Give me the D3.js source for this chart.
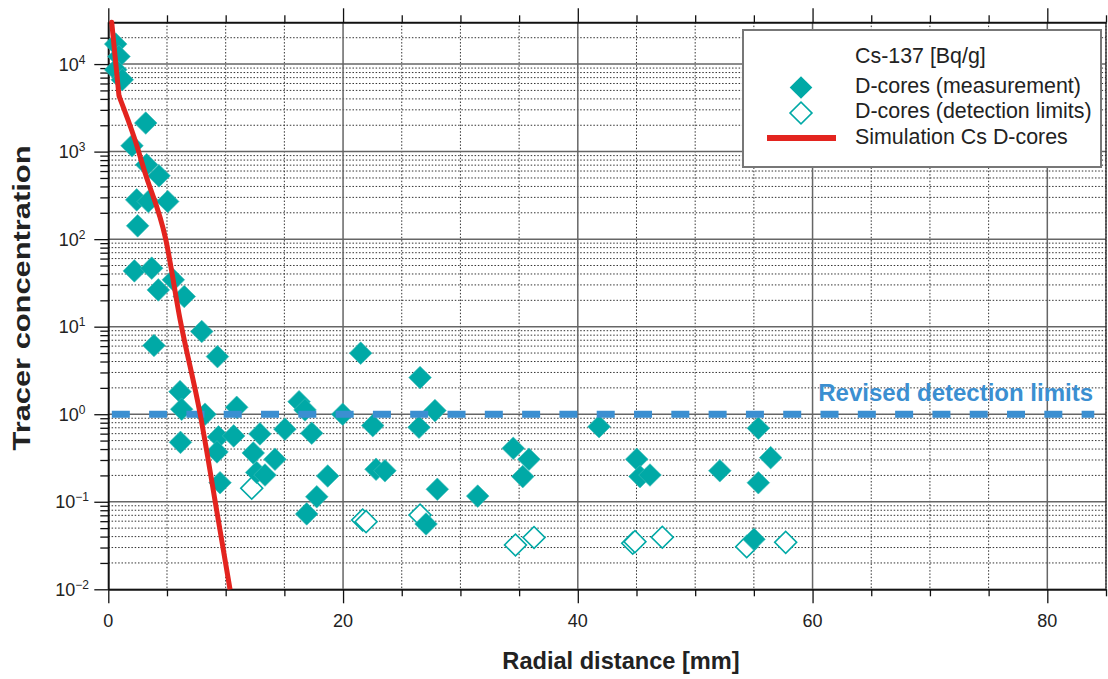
<!DOCTYPE html>
<html>
<head>
<meta charset="utf-8">
<script src="https://cdn.jsdelivr.net/npm/d3@7"></script>
<style>
  html, body { margin: 0; padding: 0; background: #fff; }
  svg { display: block; font-family: "Liberation Sans", Arial, Helvetica, sans-serif; }
</style>
</head>
<body>
<svg id="chart" width="1108" height="679"></svg>
<script>
// ---------- data ----------
const measX = [0.63, 0.91, 0.63, 1.19, 3.19, 2.02, 3.27, 4.32, 2.42, 3.41, 5.06, 2.50,
  2.22, 3.70, 4.26, 5.54, 6.47, 7.96, 3.89, 9.30, 6.11, 6.25, 8.24, 10.94, 6.15, 9.39,
  10.68, 9.26, 12.35, 12.92, 14.20, 12.64, 13.35, 9.52, 15.05, 16.25, 16.76, 17.33,
  18.69, 17.76, 16.90, 19.97, 21.50, 22.53, 22.81, 23.57, 26.56, 26.47, 27.83, 27.07,
  28.03, 31.47, 34.50, 35.84, 35.31, 41.81, 45.02, 45.30, 46.15, 52.10, 55.38, 56.43,
  55.38, 55.01];
const measY = [16900, 12200, 8600, 6620, 2120, 1165, 707, 529, 281, 269, 269, 142,
  43.4, 46.6, 26.3, 34.3, 22.1, 8.8, 6.1, 4.55, 1.81, 1.14, 1.0, 1.20, 0.477, 0.551,
  0.565, 0.371, 0.361, 0.596, 0.306, 0.216, 0.202, 0.165, 0.675, 1.39, 1.12, 0.607,
  0.197, 0.114, 0.0727, 1.0, 4.98, 0.741, 0.235, 0.226, 2.62, 0.709, 1.10, 0.0557,
  0.139, 0.116, 0.408, 0.306, 0.194, 0.721, 0.306, 0.194, 0.202, 0.226, 0.692, 0.319,
  0.165, 0.0373];

const limX = [12.22, 21.67, 21.96, 26.56, 34.69, 36.27, 44.68, 44.87, 47.20, 54.39, 57.71];
const limY = [0.143, 0.0619, 0.0593, 0.0706, 0.0321, 0.0391, 0.0336, 0.035, 0.0393, 0.0307, 0.0344];

const simX = [0.29, 0.91, 2.27, 3.13, 4.89, 6.12, 7.81, 9.37, 10.37];
const simY = [30000, 4340, 1365, 573, 100, 12.0, 1.03, 0.062, 0.01];

const detectionLimit = 1;
const detectionRange = [0.3, 84];

const xMajorTicks = [0, 20, 40, 60, 80];
const xMinorTicks = [5, 10, 15, 25, 30, 35, 45, 50, 55, 65, 70, 75, 85];
const yExponents = [-2, -1, 0, 1, 2, 3, 4];
const yMinorMultipliers = [2, 3, 4, 5, 6, 7, 8, 9];

const legendTitle = "Cs-137 [Bq/g]";
const legendLabels = ["D-cores (measurement)", "D-cores (detection limits)", "Simulation Cs D-cores"];
const xTitle = "Radial distance [mm]";
const yTitle = "Tracer concentration";
const limitLabel = "Revised detection limits";

// ---------- colours ----------
const teal = "#00a9a6";
const red = "#e3241f";
const blue = "#3b8fd1";

// ---------- scales ----------
const svg = d3.select("#chart");
const x = d3.scaleLinear().domain([0, 85]).range([108.3, 1106]);
const y = d3.scaleLog().domain([0.01, 30000]).range([589.3, 22.3]);
const [x0, x1] = x.range();
const [yb, yt] = y.range();

const yMajor = yExponents.map(e => Math.pow(10, e));
const yMinor = [];
yExponents.forEach(e => yMinorMultipliers.forEach(m => {
  const v = m * Math.pow(10, e);
  if (v < y.domain()[1]) yMinor.push(v);
}));

// ---------- grid ----------
const grid = svg.append("g");
grid.selectAll(".hmin").data(yMinor).join("line")
  .attr("x1", x0).attr("x2", x1)
  .attr("y1", d => y(d)).attr("y2", d => y(d))
  .attr("stroke", "#333").attr("stroke-width", 1).attr("stroke-dasharray", "1.5 1.8");
grid.selectAll(".vmin").data(xMinorTicks).join("line")
  .attr("x1", d => x(d)).attr("x2", d => x(d))
  .attr("y1", yt).attr("y2", yb)
  .attr("stroke", "#333").attr("stroke-width", 1).attr("stroke-dasharray", "1.5 1.8");
grid.selectAll(".hmaj").data(yMajor).join("line")
  .attr("x1", x0).attr("x2", x1)
  .attr("y1", d => y(d)).attr("y2", d => y(d))
  .attr("stroke", "#666").attr("stroke-width", 1.5);
grid.selectAll(".vmaj").data(xMajorTicks).join("line")
  .attr("x1", d => x(d)).attr("x2", d => x(d))
  .attr("y1", yt).attr("y2", yb)
  .attr("stroke", "#666").attr("stroke-width", 1.5);

// frame (top & right)
svg.append("line").attr("x1", x0).attr("x2", x1).attr("y1", yt).attr("y2", yt)
  .attr("stroke", "#222").attr("stroke-width", 1.3);
svg.append("line").attr("x1", x1).attr("x2", x1).attr("y1", yt).attr("y2", yb)
  .attr("stroke", "#222").attr("stroke-width", 1.3);

// ---------- axes ----------
function styleAxis(g) {
  g.selectAll("path.domain").attr("stroke", "#111").attr("stroke-width", 1.3);
  g.selectAll(".tick line").attr("stroke", "#111").attr("stroke-width", 1.3);
  g.selectAll(".tick text").remove();
}
svg.append("g").attr("transform", `translate(0,${yb})`)
  .call(d3.axisBottom(x).tickValues(xMajorTicks).tickSize(14).tickSizeOuter(0).tickFormat(""))
  .call(styleAxis);
svg.append("g").attr("transform", `translate(0,${yb})`)
  .call(d3.axisBottom(x).tickValues(xMinorTicks).tickSize(7).tickSizeOuter(0).tickFormat(""))
  .call(styleAxis);
svg.append("g").attr("transform", `translate(0,${yt})`)
  .call(d3.axisTop(x).tickValues(xMajorTicks).tickSize(14).tickSizeOuter(0).tickFormat(""))
  .call(styleAxis);
svg.append("g").attr("transform", `translate(0,${yt})`)
  .call(d3.axisTop(x).tickValues(xMinorTicks).tickSize(7).tickSizeOuter(0).tickFormat(""))
  .call(styleAxis);
svg.append("g").attr("transform", `translate(${x0},0)`)
  .call(d3.axisLeft(y).tickValues(yMajor).tickSize(14).tickSizeOuter(0).tickFormat(""))
  .call(styleAxis);
svg.append("g").attr("transform", `translate(${x0},0)`)
  .call(d3.axisLeft(y).tickValues(yMinor).tickSize(8).tickSizeOuter(0).tickFormat(""))
  .call(styleAxis);

// tick labels
svg.append("g").selectAll("text").data(xMajorTicks).join("text")
  .attr("x", d => x(d)).attr("y", 627)
  .attr("text-anchor", "middle").attr("font-size", 18).attr("fill", "#222")
  .text(d => d);

const yl = svg.append("g").selectAll("text").data(yExponents).join("text")
  .attr("x", 72).attr("y", d => y(Math.pow(10, d)) + 6.5)
  .attr("text-anchor", "middle").attr("font-size", 18).attr("fill", "#222");
yl.append("tspan").text("10");
yl.append("tspan").attr("dy", -7).attr("font-size", 12)
  .text(d => d < 0 ? "\u2212" + Math.abs(d) : d);

// axis titles
svg.append("text").attr("x", 621).attr("y", 669)
  .attr("text-anchor", "middle").attr("font-size", 23.6).attr("font-weight", "bold")
  .attr("fill", "#222").text(xTitle);
svg.append("text").attr("transform", `translate(30,298) rotate(-90)`)
  .attr("text-anchor", "middle").attr("font-size", 23).attr("font-weight", "bold")
  .attr("textLength", 305).attr("lengthAdjust", "spacingAndGlyphs")
  .attr("fill", "#222").text(yTitle);

// ---------- markers ----------
const diamond = d3.symbol().type(d3.symbolSquare);
const limPts = limX.map((v, i) => [v, limY[i]]);
const measPts = measX.map((v, i) => [v, measY[i]]);

svg.append("g").selectAll("path").data(limPts).join("path")
  .attr("d", diamond.size(240)())
  .attr("transform", d => `translate(${x(d[0])},${y(d[1])}) rotate(45)`)
  .attr("fill", "#fff").attr("stroke", teal).attr("stroke-width", 1.6);

svg.append("g").selectAll("path").data(measPts).join("path")
  .attr("d", diamond.size(256)())
  .attr("transform", d => `translate(${x(d[0])},${y(d[1])}) rotate(45)`)
  .attr("fill", teal).attr("stroke", "#3cbcb8").attr("stroke-width", 0.6);

// ---------- detection limit ----------
svg.append("line")
  .attr("x1", x(detectionRange[0])).attr("x2", x(detectionRange[1]))
  .attr("y1", y(detectionLimit)).attr("y2", y(detectionLimit))
  .attr("stroke", blue).attr("stroke-width", 7).attr("stroke-dasharray", "18 19.3");
svg.append("text").attr("x", 1093).attr("y", 400.5)
  .attr("text-anchor", "end").attr("font-size", 24).attr("font-weight", "bold")
  .attr("fill", blue).text(limitLabel);

// ---------- simulation ----------
const simPts = simX.map((v, i) => [v, simY[i]]);
const simLine = d3.line().x(d => x(d[0])).y(d => y(d[1]));
// steep initial segment (sharp bend), then the smooth decay curve
svg.append("path").datum(simPts.slice(0, 2))
  .attr("d", simLine)
  .attr("fill", "none").attr("stroke", red).attr("stroke-width", 5)
  .attr("stroke-linecap", "round");
svg.append("path").datum(simPts.slice(1))
  .attr("d", simLine.curve(d3.curveMonotoneX))
  .attr("fill", "none").attr("stroke", red).attr("stroke-width", 5)
  .attr("stroke-linecap", "butt");

// ---------- legend ----------
const lg = svg.append("g");
lg.append("rect").attr("x", 743).attr("y", 30).attr("width", 358).attr("height", 137)
  .attr("fill", "#fff").attr("stroke", "#777").attr("stroke-width", 2);
lg.append("text").attr("x", 855).attr("y", 63).attr("font-size", 21.4).attr("fill", "#222").text(legendTitle);
const rows = [92.5, 117.5, 144];
lg.selectAll(".lt").data(legendLabels).join("text")
  .attr("x", 855).attr("y", (d, i) => rows[i]).attr("font-size", 21.4).attr("fill", "#222").text(d => d);
lg.append("path").attr("d", diamond.size(256)())
  .attr("transform", `translate(801,87.5) rotate(45)`).attr("fill", teal);
lg.append("path").attr("d", diamond.size(240)())
  .attr("transform", `translate(801,113) rotate(45)`)
  .attr("fill", "#fff").attr("stroke", teal).attr("stroke-width", 1.6);
lg.append("line").attr("x1", 767).attr("x2", 836).attr("y1", 138).attr("y2", 138)
  .attr("stroke", red).attr("stroke-width", 6);
</script>
</body>
</html>
